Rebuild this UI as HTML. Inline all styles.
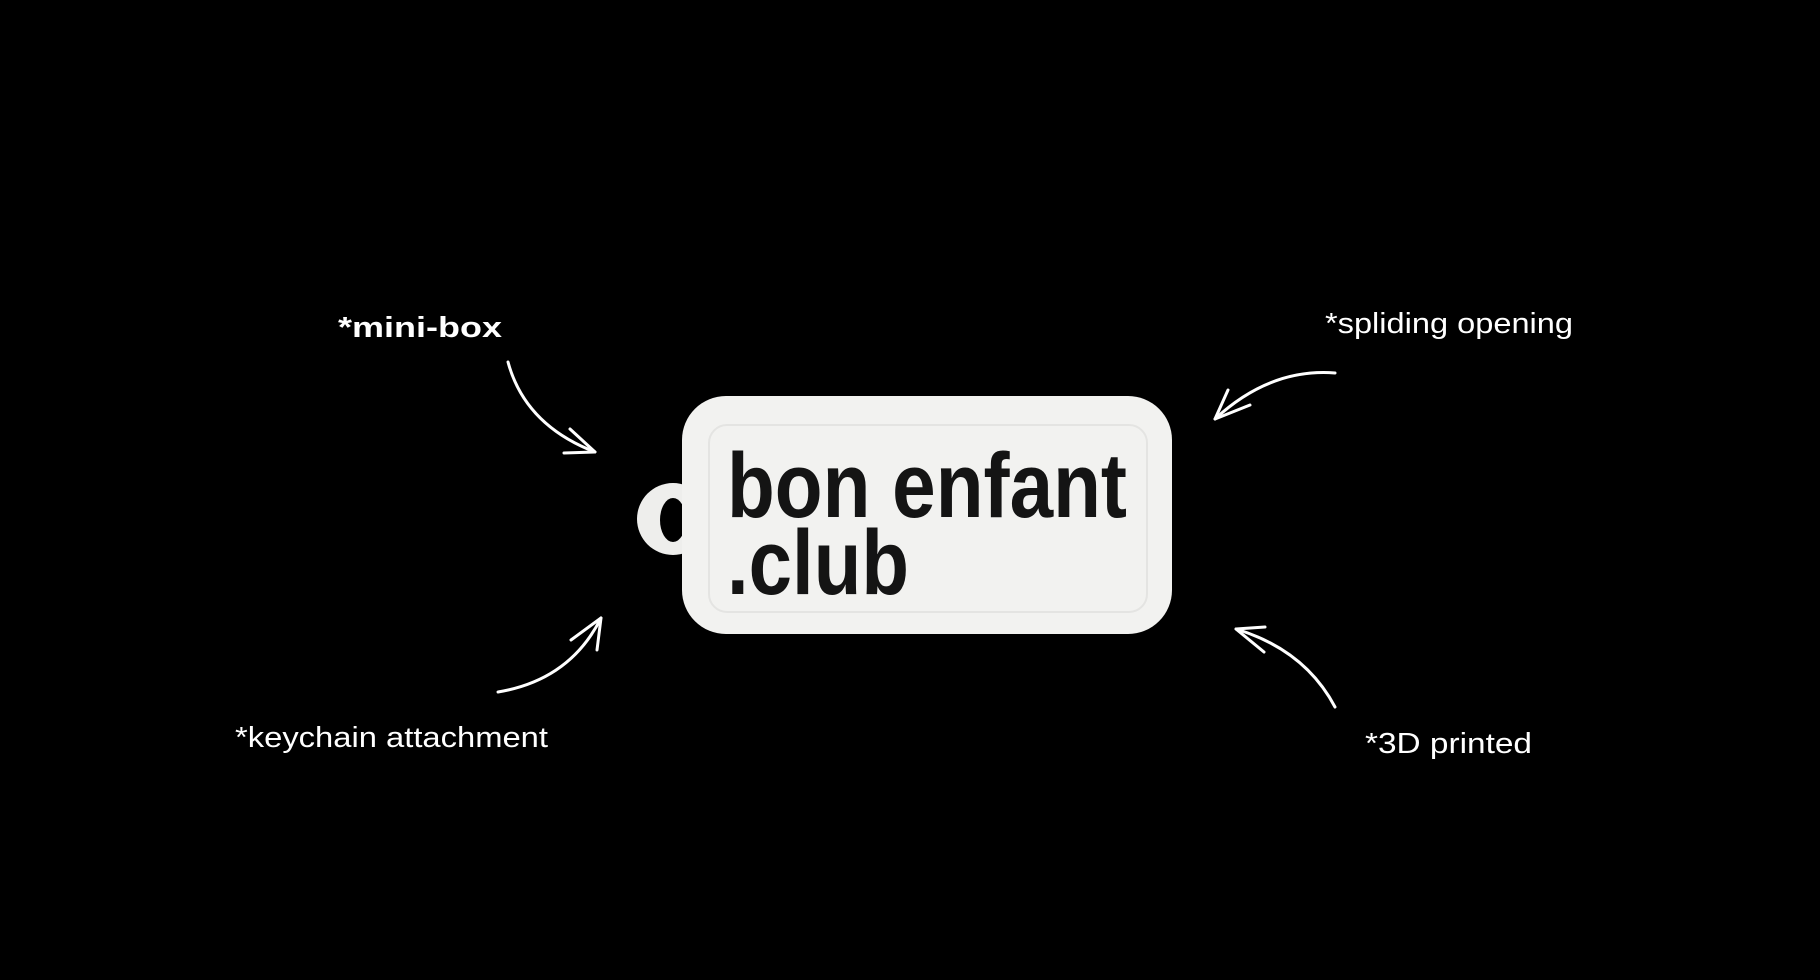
<!DOCTYPE html>
<html><head><meta charset="utf-8"><style>
html,body{margin:0;padding:0;background:#000;width:1820px;height:980px;overflow:hidden}
svg{display:block}
</style></head><body>
<svg width="1820" height="980" viewBox="0 0 1820 980" xmlns="http://www.w3.org/2000/svg">
<rect width="1820" height="980" fill="#000"/>
<!-- ring -->
<circle cx="673" cy="519" r="36" fill="#eeeeec"/>
<ellipse cx="673" cy="520" rx="13" ry="22" fill="#000"/>
<!-- body -->
<rect x="682" y="396" width="490" height="238" rx="44" fill="#f2f2f0"/>
<rect x="709" y="425" width="438" height="187" rx="18" fill="none" stroke="#e4e4e2" stroke-width="2"/>
<g font-family="Liberation Sans, sans-serif" font-weight="bold" fill="#141414">
<text x="727" y="517" font-size="92" textLength="400" lengthAdjust="spacingAndGlyphs">bon enfant</text>
<text x="727" y="594" font-size="92" textLength="182" lengthAdjust="spacingAndGlyphs">.club</text>
</g>
<!-- labels -->
<g font-family="Liberation Sans, DejaVu Sans, sans-serif" fill="#fff">
<text x="338" y="337" font-size="29" font-weight="bold" textLength="164" lengthAdjust="spacingAndGlyphs">*mini-box</text>
<text x="235" y="747" font-size="29" textLength="313" lengthAdjust="spacingAndGlyphs">*keychain attachment</text>
<text x="1325" y="333" font-size="29" textLength="248" lengthAdjust="spacingAndGlyphs">*spliding opening</text>
<text x="1365" y="753" font-size="29" textLength="167" lengthAdjust="spacingAndGlyphs">*3D printed</text>
</g>
<!-- arrows -->
<g fill="none" stroke="#fff" stroke-width="3" stroke-linecap="round" stroke-linejoin="round">
<path d="M508 362 Q525 425 595 452"/>
<path d="M570 429 L595 452 L564 453"/>
<path d="M498 692 Q570 680 601 618"/>
<path d="M571 640 L601 618 L597 650"/>
<path d="M1335 373 Q1270 368 1215 419"/>
<path d="M1228 390 L1215 419 L1250 405"/>
<path d="M1335 707 Q1305 650 1236 629"/>
<path d="M1265 627 L1236 629 L1264 652"/>
</g>
</svg>
</body></html>
